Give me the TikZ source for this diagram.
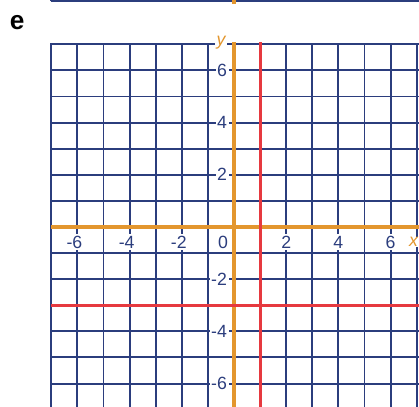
\documentclass[tikz,border=0pt]{standalone}
\usepackage{fontspec}
\setmainfont{Liberation Sans}
\usetikzlibrary{positioning}
\definecolor{gridblue}{HTML}{2B3D7D}
\definecolor{axisorange}{HTML}{E3962E}
\definecolor{linered}{HTML}{E6393F}
\tikzset{grid line/.style={gridblue,line width=1.5pt},
         axis line/.style={axisorange,line width=3pt},
         graph line/.style={linered,line width=2.4pt},
         xtick label/.style={rectangle,fill=white,text=gridblue,font=\fontsize{13.5}{13.5}\selectfont,inner sep=1.2pt},
         ytick label/.style={xtick label,anchor=east},
         axis label/.style={rectangle,fill=white,text=axisorange,font=\fontsize{13.5}{13.5}\selectfont\itshape,inner sep=1pt},
         part label/.style={rectangle,font=\fontsize{20}{20}\selectfont\bfseries,inner sep=0pt},
}

\begin{document}
\begin{tikzpicture}[scale=0.7]
% \draw[help lines] (-9,-7) grid (7,9);
\clip (-8.966,-6.897) rectangle (7.088,8.697);

% bottom of the grid above
\draw[grid line] (-7,8.64) -- (7.5,8.64);
\foreach \i in {-7,...,7} \draw[grid line] (\i,8.64) -- (\i,9);
\draw[axis line] (0,8.54) -- (0,9);

\draw[grid line,line cap=rect] (-7,-7.5) grid (7.5,7);
\draw[axis line] (-7,0) -- (7.5,0);
\draw[axis line] (0,-7.5) -- (0,7.1);
\draw[graph line] (-7,-3) -- (7.5,-3);
\draw[graph line] (1,-7.5) -- (1,7.07);

\foreach \n in {2,4,6}{
    \node[xtick label] (xm\n) at (-\n,-0.58) {\llap{-}\n};
    \node[xtick label] (xp\n) at (\n,-0.58) {\n};
    \node[ytick label] (yp\n) at (-0.2,\n) {\n};
    \node[ytick label] (ym\n) at (-0.2,-\n) {-\n};
}
\node[xtick label] (x0) at (-0.42,-0.58) {0};

\node[axis label] (ylab) at (-0.5,7.05) {y};
\node[axis label,anchor=east,inner sep=0.5pt] (xlab) at (7.088,-0.57) {x};

\node[part label] (e) at (-8.31,7.85) {e};
\end{tikzpicture}
\end{document}
